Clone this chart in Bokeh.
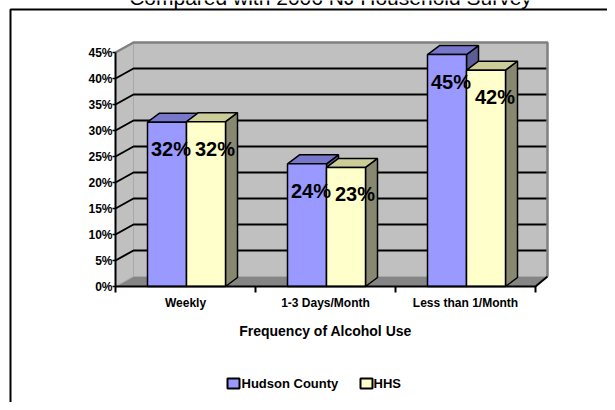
from bokeh.plotting import figure
from bokeh.models import Range1d
from bokeh.core.properties import value
from bokeh.embed import file_html
from bokeh.resources import INLINE

# ---------------- data ----------------
categories = ["Weekly", "1-3 Days/Month", "Less than 1/Month"]
series_names = ["Hudson County", "HHS"]
hudson = [31.6, 23.6, 44.6]
hhs = [31.7, 22.9, 41.6]
y_ticks = [0, 5, 10, 15, 20, 25, 30, 35, 40, 45]
title_text = "Compared with 2006 NJ Household Survey"
x_title = "Frequency of Alcohol Use"

# ---------------- styling / geometry ----------------
FONT = value("Liberation Sans")
W, H = 607, 402
X0_PX, CAT_PX = 115, 140       # x of category axis start, px per category
Y0_PX, PX_PER_PCT = 286, 5.2   # y of 0%, px per percent
YMAX = 45

def px_dx(px):
    return px / CAT_PX

def px_dy(px):
    return px / PX_PER_PCT

def fx(px):
    return (px - X0_PX) / CAT_PX

def fy(py):
    return (Y0_PX - py) / PX_PER_PCT

ncat = len(categories)
x_range = Range1d(fx(0), fx(W))
y_range = Range1d(fy(H), fy(0))

p = figure(width=W, height=H, x_range=x_range, y_range=y_range,
           output_backend="svg", toolbar_location=None,
           x_axis_location=None, y_axis_location=None,
           min_border=0, outline_line_color=None,
           background_fill_color="white", border_fill_color="white")
p.grid.visible = False

# back-plane (wall) mapping with slight perspective
WALL_DX_L, WALL_DX_R, WALL_DY = 18, 12, 10

def xb(x):
    return x + px_dx(WALL_DX_L + (WALL_DX_R - WALL_DX_L) * x / ncat)

def yb(y):
    return y + px_dy(WALL_DY)

# outer box (only top/left visible)
p.line([fx(10), fx(10), fx(640)], [fy(440), fy(9), fy(9)], line_color="black", line_width=2)

# title (upper part cut off as in reference)
p.text(x=[fx(330)], y=[fy(-3.5)], text=[title_text], text_font=FONT,
       text_font_size="21px", text_align="center", text_baseline="alphabetic",
       text_color="black")

# side wall
p.patch([0, 0, xb(0), xb(0)], [0, YMAX, yb(YMAX), yb(0)],
        fill_color="#C0C0C0", line_color=None)
# back wall
p.patch([xb(0), xb(ncat), xb(ncat), xb(0)], [yb(0), yb(0), yb(YMAX), yb(YMAX)],
        fill_color="#C0C0C0", line_color=None)
# floor
p.patch([0, ncat, xb(ncat), xb(0)], [0, 0, yb(0), yb(0)],
        fill_color="#858585", line_color=None)
p.line([0, xb(0)], [0, yb(0)], line_color="#A8A8A8", line_width=1)
p.line([xb(0), xb(0)], [yb(0), yb(YMAX)], line_color="#A8A8A8", line_width=1)
p.line([xb(0), xb(ncat)], [yb(0), yb(0)], line_color="#A8A8A8", line_width=1)

# gridlines
for t in y_ticks[1:-1]:
    p.line([0, xb(0), xb(ncat)], [t, yb(t), yb(t)], line_color="black", line_width=2)
# wall borders (top and right)
p.line([0, xb(0), xb(ncat), xb(ncat)], [YMAX, yb(YMAX), yb(YMAX), yb(0)],
       line_color="#808080", line_width=2.5)

# ---------------- bars ----------------
BAR_L, BAR_M, BAR_R = -38, 1, 40    # px offsets from category center
DEPTH_X, DEPTH_Y = 12, 9
series = [
    (hudson, BAR_L, BAR_M, "#9999FF", "#7777CC", "#5C5C99", 4),
    (hhs, BAR_M, BAR_R, "#FFFFCC", "#CCCC99", "#888870", 9),
]
ddx, ddy = px_dx(DEPTH_X), px_dy(DEPTH_Y)
for i in range(ncat):
    c = i + 0.5
    for vals, lo, hi, front, top, side, _ in series:
        v = vals[i]
        x0, x1 = c + px_dx(lo), c + px_dx(hi)
        p.patch([x1, x1, x1 + ddx, x1 + ddx], [0, v, v + ddy, ddy],
                fill_color=side, line_color="black", line_width=1.5)
        p.patch([x0, x1, x1 + ddx, x0 + ddx], [v, v, v + ddy, v + ddy],
                fill_color=top, line_color="black", line_width=1.5)
        p.quad(left=[x0], right=[x1], bottom=[0], top=[v],
               fill_color=front, line_color="black", line_width=1.5)

# data labels
LABEL_DROP = 27
for vals, lo, hi, front, top, side, shift in series:
    xs = [i + 0.5 + px_dx((lo + hi) / 2 + shift) for i in range(ncat)]
    ys = [v - px_dy(LABEL_DROP) for v in vals]
    p.text(x=xs, y=ys, text=["%d%%" % round(v) for v in vals], text_font=FONT,
           text_font_size="20px", text_font_style="bold", text_align="center",
           text_baseline="middle", text_color="black")

# ---------------- axes ----------------
p.line([0, 0], [0, YMAX], line_color="black", line_width=2)
for t in y_ticks:
    p.line([px_dx(-3), 0], [t, t], line_color="black", line_width=1.5)
p.text(x=[px_dx(-3)] * len(y_ticks), y=y_ticks, text=["%d%%" % t for t in y_ticks],
       text_font=FONT, text_font_size="12px", text_font_style="bold",
       text_align="right", text_baseline="middle", text_color="black")
p.line([0, ncat, xb(ncat)], [0, 0, yb(0)], line_color="black", line_width=2)
for k in range(ncat + 1):
    p.line([k, k], [0, px_dy(-6)], line_color="black", line_width=2)
p.text(x=[i + 0.5 for i in range(ncat)], y=[px_dy(-16)] * ncat, text=categories,
       text_font=FONT, text_font_size="12px", text_font_style="bold",
       text_align="center", text_baseline="middle", text_color="black")
p.text(x=[ncat / 2], y=[px_dy(-44)], text=[x_title], text_font=FONT,
       text_font_size="14px", text_font_style="bold", text_align="center",
       text_baseline="middle", text_color="black")

# ---------------- legend ----------------
LEG_Y = 383
leg_items = [(series_names[0], "#9999FF", 227, 241), (series_names[1], "#FFFFCC", 360, 373)]
for name, col, sx, tx in leg_items:
    p.quad(left=[fx(sx)], right=[fx(sx + 12)], bottom=[fy(LEG_Y + 5)], top=[fy(LEG_Y - 5)],
           fill_color=col, line_color="black", line_width=2)
    p.text(x=[fx(tx)], y=[fy(LEG_Y)], text=[name], text_font=FONT,
           text_font_size="13px", text_font_style="bold", text_align="left",
           text_baseline="middle", text_color="black")

open("out.html", "w").write(file_html(p, INLINE))
